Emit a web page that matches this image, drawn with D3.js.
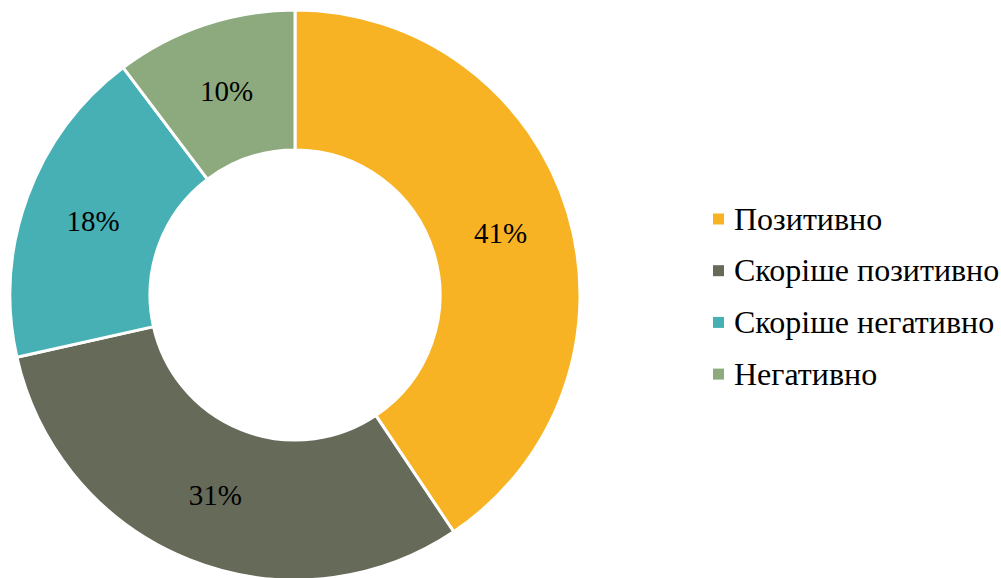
<!DOCTYPE html>
<html><head><meta charset="utf-8">
<script src="https://cdn.jsdelivr.net/npm/d3@7"></script>
<style>html,body{margin:0;padding:0;background:#fff;overflow:hidden}</style>
</head><body>
<svg id="chart" width="1001" height="578"></svg>
<script>
const categories = ["Позитивно", "Скоріше позитивно", "Скоріше негативно", "Негативно"];
const values = [40.6, 30.9, 18.2, 10.3];
const labels = ["41%", "31%", "18%", "10%"];
const colors = ["#F7B324", "#666A58", "#47B0B5", "#8DAA7E"];

const svg = d3.select("#chart");
const cx = 295, cy = 295, rOuter = 285, rInner = 145;
const font = '"Liberation Serif", "Times New Roman", serif';

const pie = d3.pie().sort(null).value(d => d);
const arc = d3.arc().innerRadius(rInner).outerRadius(rOuter);
const arcs = pie(values);

const g = svg.append("g").attr("transform", `translate(${cx},${cy})`);
g.selectAll("path").data(arcs).join("path")
  .attr("d", arc)
  .attr("fill", (d, i) => colors[i])
  .attr("stroke", "#fff")
  .attr("stroke-width", 3)
  .attr("stroke-linejoin", "miter");

g.selectAll("text").data(arcs).join("text")
  .attr("transform", d => `translate(${arc.centroid(d)})`)
  .attr("text-anchor", "middle")
  .attr("dy", "0.35em")
  .style("font-family", font)
  .style("font-size", "29px")
  .attr("fill", "#000")
  .text((d, i) => labels[i]);

const leg = svg.append("g").attr("transform", "translate(713,219)");
const rows = leg.selectAll("g").data(categories).join("g")
  .attr("transform", (d, i) => `translate(0,${i * 51.7})`);
rows.append("rect").attr("x", 0).attr("y", -5.5).attr("width", 11).attr("height", 11)
  .attr("fill", (d, i) => colors[i]);
rows.append("text").attr("x", 21).attr("y", 10.5)
  .style("font-family", font)
  .style("font-size", "32px").attr("fill", "#000")
  .text(d => d);
</script>
</body></html>
